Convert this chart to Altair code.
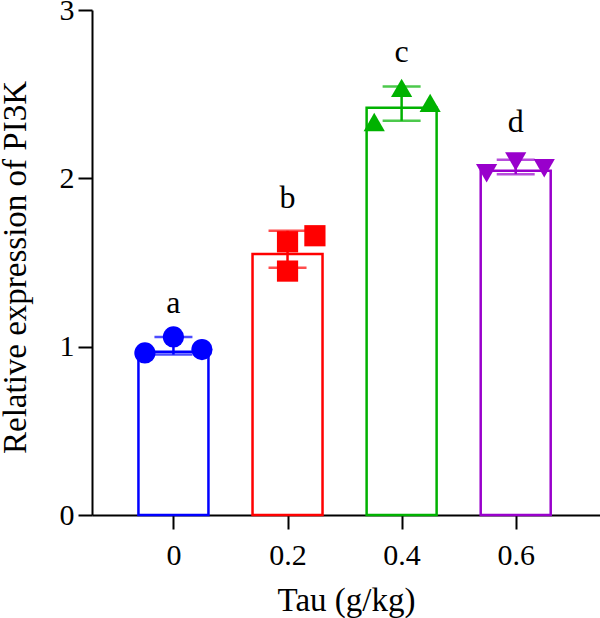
import altair as alt
import pandas as pd

doses = [0, 0.2, 0.4, 0.6]
groups = ["0", "0.2", "0.4", "0.6"]
letters = ["a", "b", "c", "d"]
bar_mean = [0.97, 1.55, 2.42, 2.045]
err_low = [0.953, 1.469, 2.342, 2.025]
err_high = [1.058, 1.688, 2.545, 2.11]
letter_y = [1.20, 1.824, 2.693, 2.277]
colors = ["#0000FF", "#FF0000", "#00B200", "#9900CC"]
shapes = ["circle", "square", "triangle-up", "triangle-down"]

pt_values = [
    [0.963, 1.058, 0.983],
    [1.623, 1.659, 1.449],
    [2.335, 2.537, 2.448],
    [2.03, 2.10, 2.06],
]
pt_dx = [
    [-0.05, 0.0, 0.05],
    [0.0, 0.048, 0.0],
    [-0.048, 0.0, 0.05],
    [-0.051, 0.0, 0.05],
]

summary = pd.DataFrame({
    "dose": doses, "group": groups, "letter": letters, "mean": bar_mean,
    "lo": err_low, "hi": err_high, "ly": letter_y,
})
rows = []
for d, g, vals, dxs in zip(doses, groups, pt_values, pt_dx):
    for v, dx in zip(vals, dxs):
        rows.append({"x": d + dx, "group": g, "value": v})
points = pd.DataFrame(rows)

xscale = alt.Scale(domain=[-0.134, 0.739], nice=False, zero=False)
yscale = alt.Scale(domain=[0, 3], nice=False)
cscale = alt.Scale(domain=groups, range=colors)
sscale = alt.Scale(domain=groups, range=shapes)

xaxis = alt.Axis(values=doses, format="~g", title="Tau (g/kg)", grid=False,
                 labelFontSize=30, labelPadding=11, tickSize=14, tickWidth=2,
                 domainWidth=2, domainColor="black", tickColor="black",
                 labelColor="black", titleFontSize=33, titleFontWeight="normal",
                 titleColor="black", titleY=95, titleBaseline="alphabetic")
yaxis = alt.Axis(values=[0, 1, 2, 3], format="~g", title="Relative expression of PI3K",
                 grid=False, labelFontSize=30, labelPadding=4, tickSize=14, tickWidth=2,
                 domainWidth=2, domainColor="black", tickColor="black",
                 labelColor="black", titleFontSize=33, titleFontWeight="normal",
                 titleColor="black", titleX=-67, titleY=257, titleAngle=-90,
                 titleAlign="center", titleBaseline="alphabetic")

base = alt.Chart(summary)
bars = base.mark_bar(size=70, fillOpacity=0, strokeWidth=2.5).encode(
    x=alt.X("dose:Q", scale=xscale, axis=xaxis),
    y=alt.Y("mean:Q", scale=yscale, axis=yaxis),
    stroke=alt.Stroke("group:N", scale=cscale, legend=None),
)
stems = base.mark_rule(strokeWidth=2.5).encode(
    x="dose:Q", y="lo:Q", y2="hi:Q",
    color=alt.Color("group:N", scale=cscale, legend=None),
)
caps_lo = base.mark_tick(orient="horizontal", size=38, thickness=2.5).encode(
    x="dose:Q", y="lo:Q", color=alt.Color("group:N", scale=cscale, legend=None),
)
caps_hi = base.mark_tick(orient="horizontal", size=38, thickness=2.5).encode(
    x="dose:Q", y="hi:Q", color=alt.Color("group:N", scale=cscale, legend=None),
)
pts = alt.Chart(points).mark_point(filled=True, size=450, opacity=1).encode(
    x="x:Q", y="value:Q",
    color=alt.Color("group:N", scale=cscale, legend=None),
    shape=alt.Shape("group:N", scale=sscale, legend=None),
)
labels = base.mark_text(fontSize=32, baseline="alphabetic", color="black").encode(
    x="dose:Q", y="ly:Q", text="letter:N",
)

chart = alt.layer(bars, stems, caps_lo, caps_hi, pts, labels).properties(
    width=508, height=505,
    padding={"left": 92, "top": 10, "right": 0, "bottom": 103},
    autosize=alt.AutoSizeParams(type="none"),
).configure(font="Liberation Serif").configure_view(stroke=None)

chart.save("out.html", embed_options={"renderer": "svg", "actions": False})
